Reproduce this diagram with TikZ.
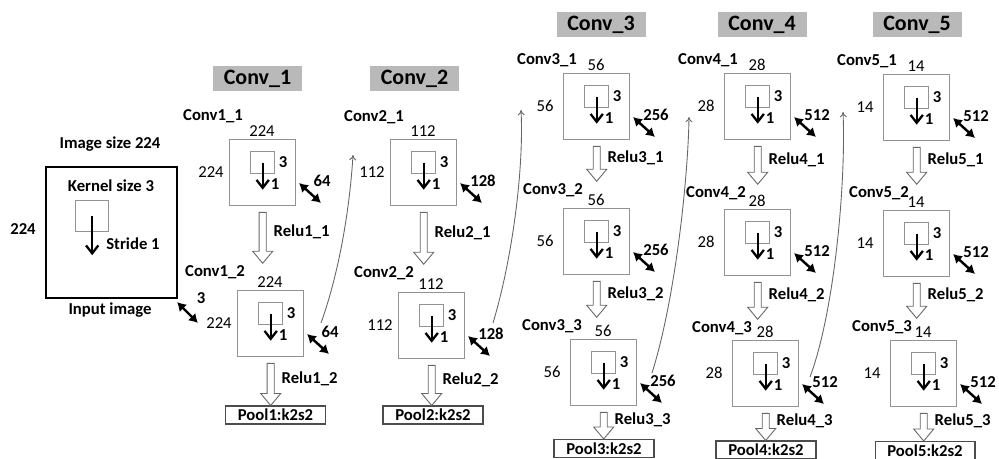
\documentclass[tikz,border=0pt]{standalone}
\usepackage{fontspec}
\setmainfont{Carlito}
\usetikzlibrary{arrows.meta,calc}

\begin{document}
\begin{tikzpicture}[x=0.02cm,y=-0.02cm,
    txt/.style={inner sep=1pt,font=\fontsize{9.5}{11}\selectfont},
    btxt/.style={inner sep=1pt,font=\fontsize{9.5}{11}\selectfont\bfseries},
    head/.style={fill=gray!55,minimum width=1.78cm,minimum height=0.5cm,inner sep=0pt,font=\fontsize{12.5}{15}\selectfont\bfseries},
    convbox/.style={draw=gray!85,line width=0.8pt,minimum size=1.32cm,anchor=north west,inner sep=0pt},
    kernel/.style={draw=gray!85,line width=0.8pt,minimum width=0.48cm,minimum height=0.44cm,anchor=north west,inner sep=0pt},
    karrow/.style={line width=1.3pt,-{Straight Barb[length=4.5pt,width=7pt]}},
    chan/.style={line width=1.4pt,{Latex[length=5pt,width=6pt]}-{Latex[length=5pt,width=6pt]}},
    pool/.style={btxt,draw=black!70,line width=0.6pt,minimum width=2cm,minimum height=0.36cm},
    link/.style={gray!80!black,line width=0.5pt,-{To[length=3pt,width=4pt]}},
    relu/.style={btxt,anchor=west,xshift=7pt},
    hollow/.style={draw=gray!80!black,line width=0.5pt,fill=white,
      to path={let \p1=(\tikztostart), \p2=(\tikztotarget) in
        (\x1-2pt,\y1-3.4pt) -- (\x1-2pt,\y2+6.8pt) \tikztonodes -- (\x1-5.7pt,\y2+6.8pt)
        -- (\x1,\y2) -- (\x1+5.7pt,\y2+6.8pt) -- (\x1+2pt,\y2+6.8pt) -- (\x1+2pt,\y1-3.4pt) -- cycle}}]
    \useasboundingbox (0,0) rectangle (999,459);
    % Input image
    \node[draw=black,line width=1.1pt,minimum size=2.62cm,anchor=north west,inner sep=0pt] (img) at (45,166) {};
    \node[btxt] (imgsize) at (110,144) {Image size 224};
    \node[btxt] (ksize) at (111,186) {Kernel size 3};
    \node[draw=gray!85,line width=0.8pt,minimum width=0.66cm,minimum height=0.62cm,anchor=north west,inner sep=0pt] (ik) at (75,200) {};
    \draw[karrow] (ik.center) -- ++(0,39);
    \node[btxt] (stride) at (133,244) {Stride 1};
    \node[btxt] (iw) at (23,229) {224};
    \node[btxt] (iname) at (110,310) {Input image};
    \coordinate (ia) at (177,302);
    \coordinate (ib) at (198,323);
    \draw[chan] (ia) -- (ib);
    \node[btxt] (ic) at (201,298) {3};
    % Headers
    \node[head] (h1) at (257.5,78.5) {Conv\_1};
    \node[head] (h2) at (414.5,78.5) {Conv\_2};
    \node[head] (h3) at (601,24.5) {Conv\_3};
    \node[head] (h4) at (762,24.5) {Conv\_4};
    \node[head] (h5) at (917,24.5) {Conv\_5};
    % Conv blocks
    \foreach \i/\j/\bx/\by/\lx/\ly/\dd/\ch in {1/1/229/139/213/116/224/64, 1/2/237/290/215/272/224/64,
        2/1/390/139/374/117/112/128, 2/2/398/292/384/273/112/128,
        3/1/563/73/547/60/56/256, 3/2/563/208/553/190/56/256, 3/3/570/339/552/326/56/256,
        4/1/724/73/708/60/28/512, 4/2/724/209/716/193/28/512, 4/3/732/340/722/328/28/512,
        5/1/883/74/867/61/14/512, 5/2/883/210/879/193/14/512, 5/3/890/340/882/327/14/512}{
      \node[btxt] (l\i\j) at (\lx,\ly) {Conv\i\_\j};
      \node[convbox] (c\i\j) at (\bx,\by) {};
      \node[txt] (d\i\j) at (\bx+33,\by-8) {\dd};
      \node[txt] (w\i\j) at (\bx-18,\by+33) {\dd};
      \node[kernel] (k\i\j) at (\bx+21,\by+12) {};
      \draw[karrow] (k\i\j.center) -- ++(0,27);
      \node[btxt] (s\i\j) at (\bx+54,\by+23) {3};
      \node[btxt] (r\i\j) at (\bx+46,\by+45) {1};
      \coordinate (a\i\j) at (\bx+70,\by+44);
      \coordinate (b\i\j) at (\bx+92,\by+64);
      \draw[chan] (a\i\j) -- (b\i\j);
      \node[btxt] (n\i\j) at (\bx+93,\by+42) {\ch};
    }
    % Pooling
    \node[pool] (p1) at (275.5,415) {Pool1:k2s2};
    \node[pool] (p2) at (433,415) {Pool2:k2s2};
    \node[pool] (p3) at (604,448.5) {Pool3:k2s2};
    \node[pool] (p4) at (766,450) {Pool4:k2s2};
    \node[pool] (p5) at (925,450.5) {Pool5:k2s2};
    % Relu arrows
    \foreach \i/\j/\t in {1/1/l12, 1/2/p1, 2/1/l22, 2/2/p2, 3/1/l32, 3/2/l33, 3/3/p3,
        4/1/l42, 4/2/l43, 4/3/p4, 5/1/l52, 5/2/l53, 5/3/p5}
      \draw[hollow] (c\i\j.south) to node[relu] {Relu\i\_\j} (\t.north);
    % Links between stages
    \coordinate (u1) at (321,323); \coordinate (v1) at (353,155);
    \coordinate (u2) at (493,323); \coordinate (v2) at (521,110);
    \coordinate (u3) at (652,373); \coordinate (v3) at (689,117);
    \coordinate (u4) at (810,377); \coordinate (v4) at (843,112);
    \draw[link] (u1) .. controls (340,270) and (350,205) .. (v1);
    \draw[link] (u2) .. controls (512,260) and (524,170) .. (v2);
    \draw[link] (u3) .. controls (675,300) and (688,180) .. (v3);
    \draw[link] (u4) .. controls (835,310) and (846,180) .. (v4);
\end{tikzpicture}
\end{document}
